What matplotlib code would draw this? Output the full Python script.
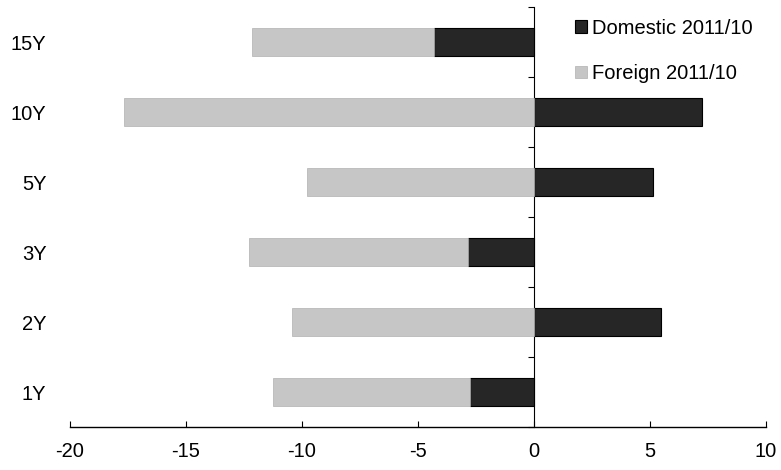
import numpy as np
import matplotlib.pyplot as plt

plt.rcParams['font.family'] = ['Liberation Sans', 'DejaVu Sans']
plt.rcParams['axes.unicode_minus'] = False

tenors = ['1Y', '2Y', '3Y', '5Y', '10Y', '15Y']
domestic = [-2.76, 5.47, -2.84, 5.13, 7.24, -4.31]
foreign = [-8.49, -10.43, -9.44, -9.78, -17.67, -7.85]

# foreign stacks onto the domestic bar only when both go the same way
dom = np.array(domestic)
frn = np.array(foreign)
left_frn = np.where(dom < 0, dom, 0)

fig = plt.figure(figsize=(7.81, 4.70), dpi=100)
ax = fig.add_axes([70 / 781, 43 / 470, 696 / 781, 420 / 470])

y = np.arange(len(tenors))
h = 0.4
ax.barh(y, dom, height=h, color='#262626', edgecolor='black', linewidth=0.8,
        label='Domestic 2011/10')
ax.barh(y, frn, left=left_frn, height=h, color='#c6c6c6', edgecolor='#b0b0b0',
        linewidth=0.5, label='Foreign 2011/10')

ax.set_xlim(-20, 10)
ax.set_ylim(-0.5, len(tenors) - 0.5)
ax.set_xticks(np.arange(-20, 11, 5))
ax.set_yticks(y)
ax.set_yticklabels(tenors)

for s in ['top', 'right', 'left']:
    ax.spines[s].set_visible(False)
ax.spines['bottom'].set_linewidth(1.0)
ax.tick_params(axis='y', length=0, pad=17, labelsize=14.5)
ax.tick_params(axis='x', direction='in', length=4, pad=11, labelsize=14.5)

# vertical axis through zero with ticks between categories
yax = ax.secondary_yaxis(20 / 30)
yax.set_yticks(np.arange(-0.5, len(tenors), 1.0))
yax.set_yticklabels([])
yax.tick_params(direction='in', length=4)
yax.spines['left'].set_linewidth(1.0)

ax.legend(loc='upper left', bbox_to_anchor=(0.70, 1.015), frameon=False,
          fontsize=14.5, handlelength=0.6, handleheight=0.6, handletextpad=0.25,
          labelspacing=1.3)

fig.savefig('out.png', dpi=100)
